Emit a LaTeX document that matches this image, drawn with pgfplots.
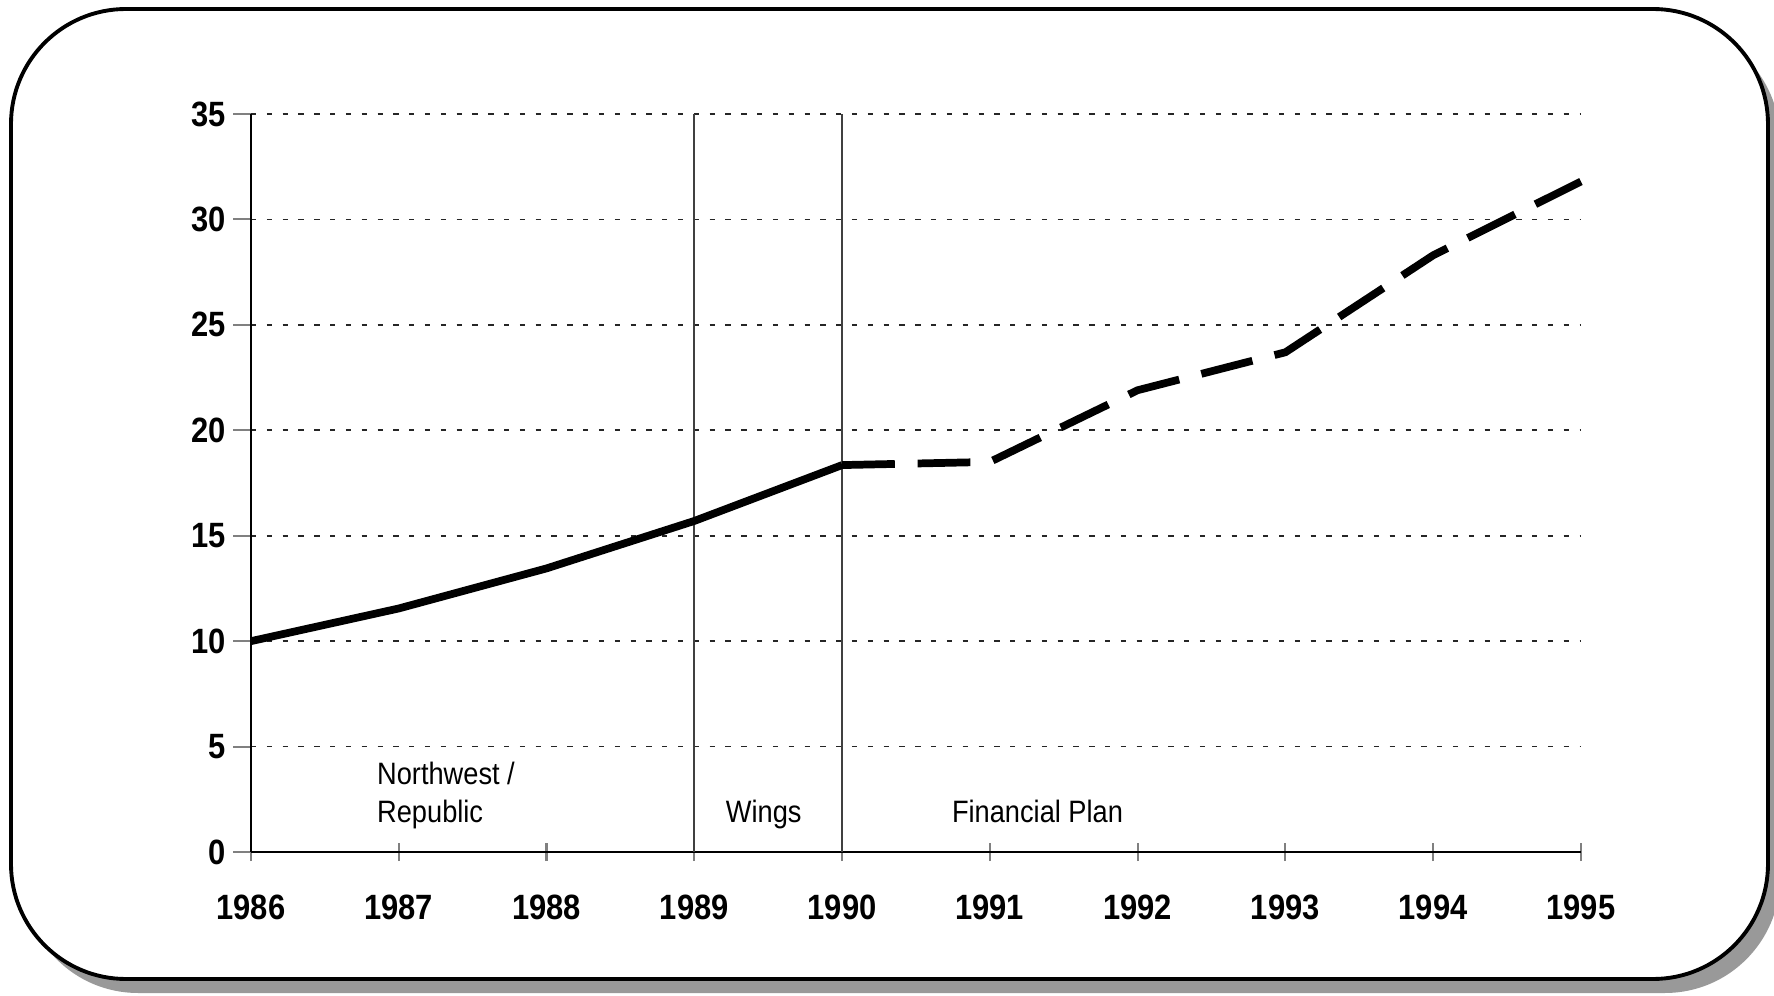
\documentclass[border=0pt]{standalone}
\usepackage{pgfplots}
\pgfplotsset{compat=1.18}
\usepackage{fontspec}
\setmainfont[FakeStretch=0.88]{Liberation Sans}
\begin{document}
\begin{tikzpicture}
\useasboundingbox (0,0) rectangle (17.74,9.95);
% shadow and frame
\begin{scope}
\clip (0,0) rectangle (17.74,9.95);
\fill[black!40, rounded corners=1.15cm] (0.23,0.02) rectangle (17.80,9.70);
\end{scope}
\draw[line width=1.1pt, fill=white, rounded corners=1.15cm] (0.11,0.16) rectangle (17.68,9.86);
\begin{axis}[
  at={(2.51cm,1.43cm)}, anchor=south west,
  scale only axis, width=13.30cm, height=7.38cm,
  xmin=1986, xmax=1995, ymin=0, ymax=35,
  axis lines*=left,
  axis line style={line width=0.6pt},
  xtick={1986,...,1995}, ytick={0,5,...,35},
  /pgf/number format/1000 sep={},
  /pgf/number format/assume math mode=true,
  ticklabel style={font=\bfseries\fontsize{10}{11}\selectfont},
  x tick style={line width=0.6pt}, y tick style={line width=0.6pt},
  xtick align=center, ytick align=outside,
  major tick length=0.18cm,
  xticklabel style={yshift=-0.22cm},
  yticklabel style={xshift=0.05cm},
  ymajorgrids,
  major grid style={line width=0.5pt, dash pattern=on 1.5pt off 3pt, black!85},
  clip=false,
]
\addplot[black!75, line width=0.5pt] coordinates {(1989,0) (1989,35)};
\addplot[black!75, line width=0.5pt] coordinates {(1990,0) (1990,35)};
\addplot[black, line width=2.2pt, line join=round] coordinates {
  (1986,10.0) (1987,11.55) (1988,13.45) (1989,15.7) (1990,18.35)};
\addplot[black, line width=2.2pt, dash pattern=on 15pt off 6.5pt] coordinates {
  (1990,18.35) (1991,18.5) (1992,21.9) (1993,23.7) (1994,28.3) (1995,31.8)};
\node[anchor=base west, font=\fontsize{8.8}{10}\selectfont] at (axis cs:1986.77,3.2) {Northwest /};
\node[anchor=base west, font=\fontsize{8.8}{10}\selectfont] at (axis cs:1986.77,1.42) {Republic};
\node[anchor=base west, font=\fontsize{8.8}{10}\selectfont] at (axis cs:1989.13,1.42) {Wings};
\node[anchor=base west, font=\fontsize{8.8}{10}\selectfont] at (axis cs:1990.66,1.42) {Financial Plan};
\end{axis}
\end{tikzpicture}
\end{document}
